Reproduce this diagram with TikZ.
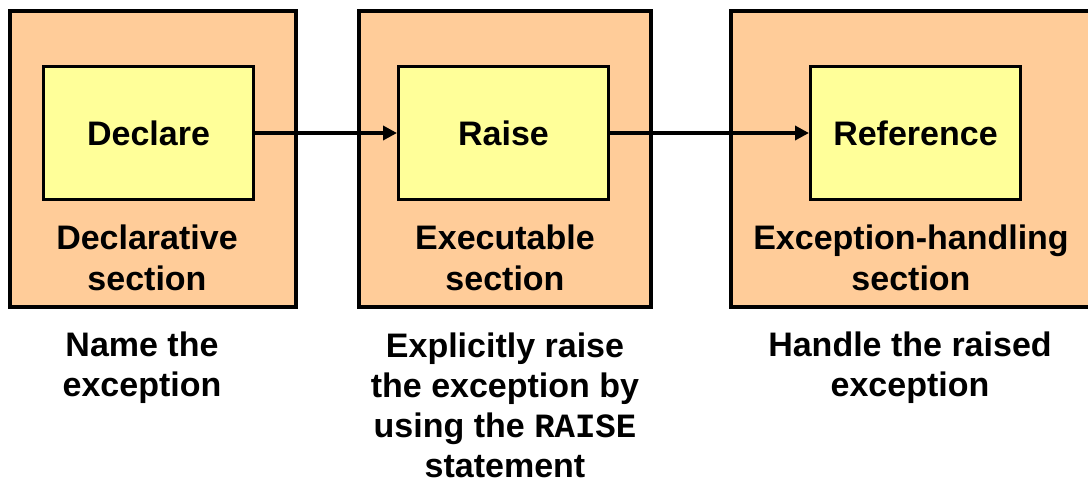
\documentclass[tikz,border=0pt]{standalone}
\usepackage{fontspec}
\setmainfont{Liberation Sans}
\newfontfamily\codefont{Liberation Mono}
\usetikzlibrary{arrows.meta}
\definecolor{peach}{HTML}{FFCC99}
\definecolor{paleyellow}{HTML}{FFFF99}
\tikzset{
  outerbox/.style={draw=black, line width=4pt, fill=peach, minimum height=296pt, inner sep=0pt},
  innerbox/.style={draw=black, line width=3pt, fill=paleyellow, minimum width=210pt, minimum height=133pt, inner sep=0pt, font=\fontsize{34}{40}\selectfont\bfseries},
  seclabel/.style={align=center, font=\fontsize{34}{41}\selectfont\bfseries, inner sep=0pt},
  desclabel/.style={align=center, font=\fontsize{34}{40}\selectfont\bfseries, inner sep=0pt},
  conn/.style={line width=3.5pt, -{Triangle[length=14pt,width=14pt]}}
}
\begin{document}
\begin{tikzpicture}[x=1pt,y=-1pt]
\useasboundingbox (0,0) rectangle (1088,483);
\clip (0,0) rectangle (1088,483);
\node[outerbox, minimum width=286pt] (o1) at (153,158.5) {};
\node[outerbox, minimum width=292pt] (o2) at (505,158.5) {};
\node[outerbox, minimum width=362pt] (o3) at (912,158.5) {};
\node[innerbox] (i1) at (148.5,133) {Declare};
\node[innerbox] (i2) at (503.5,133) {Raise};
\node[innerbox] (i3) at (915.5,133) {Reference};
\node[seclabel] (s1) at (147,258) {Declarative\\section};
\node[seclabel] (s2) at (505,258) {Executable\\section};
\node[seclabel] (s3) at (911,258) {Exception-handling\\section};
\node[desclabel] (d1) at (142,368) {Name the\\exception};
\node[desclabel] (d2) at (505,405) {Explicitly raise\\the exception by\\using the {\codefont RAISE}\\statement};
\node[desclabel] (d3) at (910,368) {Handle the raised\\exception};
\draw[conn] (i1) -- (i2);
\draw[conn] (i2) -- (i3);
\end{tikzpicture}
\end{document}
